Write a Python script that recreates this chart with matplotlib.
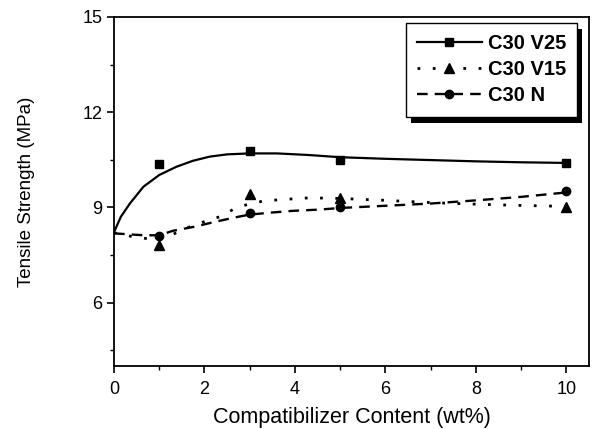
"""Tensile strength vs compatibilizer content."""

import matplotlib
matplotlib.use("Agg")
import matplotlib.pyplot as plt
from matplotlib.patches import Rectangle

plt.rcParams["font.family"] = ["Liberation Sans", "DejaVu Sans"]

# measured points
x_pts = [1, 3, 5, 10]
v25_pts = [10.38, 10.78, 10.48, 10.4]
v15_pts = [7.81, 9.42, 9.3, 9.02]
n_pts = [8.1, 8.81, 9.02, 9.5]

# fitted curves
v25_x = [0, 0.15, 0.35, 0.65, 1.0, 1.38, 1.75, 2.12, 2.5, 3.0, 3.6, 4.3, 5.0, 6, 7, 8, 9, 10]
v25_y = [8.22, 8.7, 9.12, 9.65, 10.02, 10.28, 10.47, 10.6, 10.67, 10.7, 10.7, 10.65,
         10.58, 10.53, 10.49, 10.45, 10.42, 10.4]
v15_x = [0, 0.4, 0.7, 1.0, 1.3, 1.68, 2.0, 2.35, 2.68, 2.9, 3.3, 3.75, 4.33, 5, 6, 7, 8, 9, 10]
v15_y = [8.2, 8.08, 8.02, 8.0, 8.15, 8.39, 8.55, 8.71, 8.97, 9.07, 9.2, 9.25, 9.3, 9.28,
         9.22, 9.15, 9.1, 9.06, 9.03]
n_x = [0, 0.65, 1.0, 1.3, 1.78, 2.25, 2.77, 3.0, 3.43, 3.95, 4.55, 5.0, 6, 7, 8, 9, 10]
n_y = [8.18, 8.12, 8.12, 8.26, 8.39, 8.55, 8.71, 8.77, 8.83, 8.89, 8.93, 8.98, 9.05,
       9.12, 9.22, 9.33, 9.47]

labels = ["C30 V25", "C30 V15", "C30 N"]

fig = plt.figure(figsize=(5.92, 4.29), dpi=100)
ax = fig.add_axes([0.1926, 0.1469, 0.8024, 0.8135])

dot = (0, (1, 4.5))
dash = (0, (4.5, 3))

ax.plot(v25_x, v25_y, color="black", lw=1.6, ls="-")
ax.plot(v15_x, v15_y, color="black", lw=2.0, ls=dot)
ax.plot(n_x, n_y, color="black", lw=1.7, ls=dash)

ax.plot(x_pts, v25_pts, "s", color="black", ms=5.5, ls="none")
ax.plot(x_pts, v15_pts, "^", color="black", ms=6.5, ls="none")
ax.plot(x_pts, n_pts, "o", color="black", ms=6, ls="none")

# legend handles: line + marker
h1, = ax.plot([], [], color="black", lw=1.6, ls="-", marker="s", ms=5.5)
h2, = ax.plot([], [], color="black", lw=2.0, ls=dot, marker="^", ms=6.5)
h3, = ax.plot([], [], color="black", lw=1.7, ls=dash, marker="o", ms=6)
leg = ax.legend([h1, h2, h3], labels, loc="upper right", bbox_to_anchor=(0.9747, 0.983),
                frameon=True, fancybox=False, shadow=False, framealpha=1,
                prop={"weight": "bold", "size": 14.5}, handlelength=3.2,
                borderpad=0.55, labelspacing=0.36, handletextpad=0.3, numpoints=1,
                borderaxespad=0)
leg.get_frame().set_edgecolor("black")
leg.get_frame().set_linewidth(1.0)

ax.set_xlim(0, 10.5)
ax.set_ylim(4, 15)
ax.set_xticks([0, 2, 4, 6, 8, 10])
ax.set_xticks([1, 3, 5, 7, 9], minor=True)
ax.set_yticks([6, 9, 12, 15])
ax.set_yticks([4.5, 7.5, 10.5, 13.5], minor=True)
ax.tick_params(which="major", direction="out", length=5, width=1.2, labelsize=13)
ax.tick_params(axis="x", which="major", pad=6)
ax.tick_params(which="minor", direction="out", length=3, width=1.0)
for s in ax.spines.values():
    s.set_linewidth(1.3)

ax.set_xlabel("Compatibilizer Content (wt%)", fontsize=15.5, labelpad=6)
ax.set_ylabel("Tensile Strength (MPa)", fontsize=13.5, labelpad=34)

# heavy drop shadow behind the legend box
fig.canvas.draw()
bb = leg.get_frame().get_window_extent()
shadow = Rectangle((bb.x0 + 5, bb.y0 - 6), bb.width, bb.height, transform=None,
                   facecolor="black", edgecolor="none", zorder=4.9, clip_on=False)
ax.add_artist(shadow)

plt.savefig("out.png", dpi=100)
